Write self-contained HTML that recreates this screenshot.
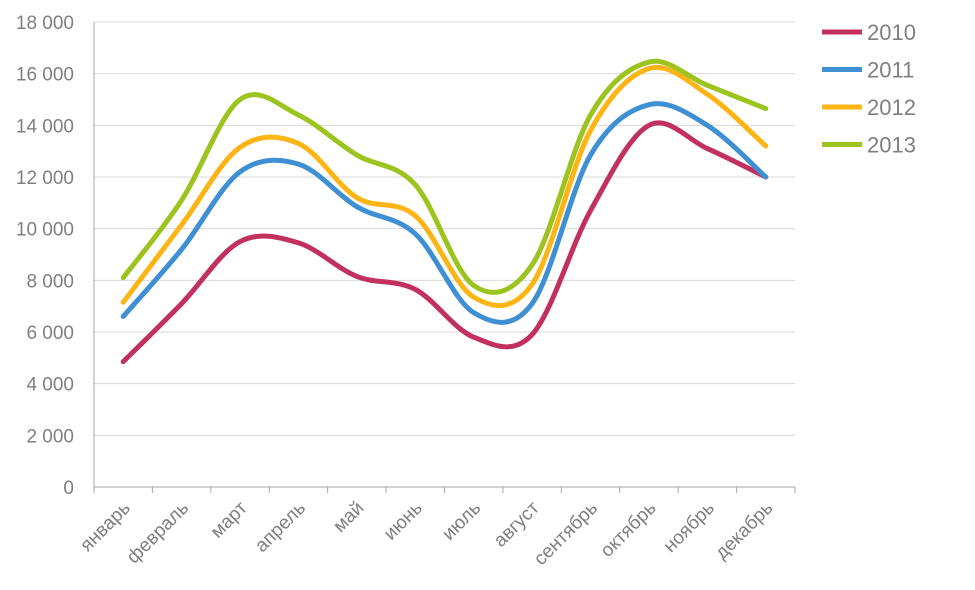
<!DOCTYPE html>
<html><head><meta charset="utf-8"><style>
body{margin:0;background:#fff;}
svg{display:block;font-family:"Liberation Sans",sans-serif;}
</style></head><body>
<svg id="chart" width="975" height="590"></svg>
<script>
const categories=["январь","февраль","март","апрель","май","июнь","июль","август","сентябрь","октябрь","ноябрь","декабрь"];
const seriesNames=["2010","2011","2012","2013"];
const s2010=[4850,7100,9500,9450,8150,7650,5800,5900,10700,14000,13100,12000];
const s2011=[6600,9200,12200,12500,10850,9800,6750,7100,12850,14800,14000,12000];
const s2012=[7150,10150,13150,13300,11200,10500,7350,7850,13800,16200,15200,13200];
const s2013=[8100,11100,15000,14400,12850,11700,7800,8600,14400,16450,15550,14650];
const yTicks=[0,2000,4000,6000,8000,10000,12000,14000,16000,18000];
const yTickLabels=["0","2 000","4 000","6 000","8 000","10 000","12 000","14 000","16 000","18 000"];
const colors=["#C2305E","#3F8FD3","#FDB515","#9CC31E"];
const allSeries=[s2010,s2011,s2012,s2013];

const NS="http://www.w3.org/2000/svg";
const svg=document.getElementById('chart');
const x0=94,x1=795,yB=487,yT=22,yMax=18000;
const bw=(x1-x0)/categories.length;
const xs=i=>x0+bw*(i+0.5);
const ys=v=>yB-(v/yMax)*(yB-yT);
function el(t,a){const e=document.createElementNS(NS,t);for(const k in a)e.setAttribute(k,a[k]);svg.appendChild(e);return e;}

yTicks.forEach((t,i)=>{
  const g=el('line',{x1:x0,x2:x1,y1:ys(t),y2:ys(t),stroke:i===0?'#a6a6a6':'#d9d9d9','stroke-width':1});
  
  
  const tx=el('text',{x:x0-20,y:ys(t)+7,'text-anchor':'end','font-size':19,fill:'#7f7f7f'});
  tx.textContent=yTickLabels[i];
  
  
});
const ya=el('line',{x1:x0,x2:x0,y1:yT,y2:yB,stroke:'#a6a6a6'});


for(let i=0;i<=categories.length;i++){
  const tk=el('line',{x1:x0+bw*i,x2:x0+bw*i,y1:yB,y2:yB+6,stroke:'#a6a6a6'});
  
  
}
categories.forEach((c,i)=>{
  const tx=el('text',{x:xs(i)+8,y:yB+22,'text-anchor':'end','font-size':19,fill:'#7f7f7f',transform:`rotate(-45 ${xs(i)+8} ${yB+22})`});
  tx.textContent=c;
  
  
});
function smoothPath(vals){
  const p=vals.map((v,i)=>[xs(i),ys(v)]);
  let d=`M${p[0][0]},${p[0][1]}`;
  for(let i=0;i<p.length-1;i++){
    const a=p[i-1]||p[i],b=p[i],c=p[i+1],e=p[i+2]||c;
    const t=6;
    d+=` C${b[0]+(c[0]-a[0])/t},${b[1]+(c[1]-a[1])/t} ${c[0]-(e[0]-b[0])/t},${c[1]-(e[1]-b[1])/t} ${c[0]},${c[1]}`;
  }
  return d;
}
allSeries.forEach((s,k)=>{
  const p=el('path',{d:smoothPath(s),fill:'none',stroke:colors[k],'stroke-width':5,'stroke-linecap':'round'});
  
  
  const ly=32+k*37.5;
  const ll=el('line',{x1:822,x2:862,y1:ly,y2:ly,stroke:colors[k],'stroke-width':5});
  
  
  const lt=el('text',{x:867,y:ly+8,'font-size':22,fill:'#7f7f7f'});
  lt.textContent=seriesNames[k];
  
  
});
</script>
</body></html>
